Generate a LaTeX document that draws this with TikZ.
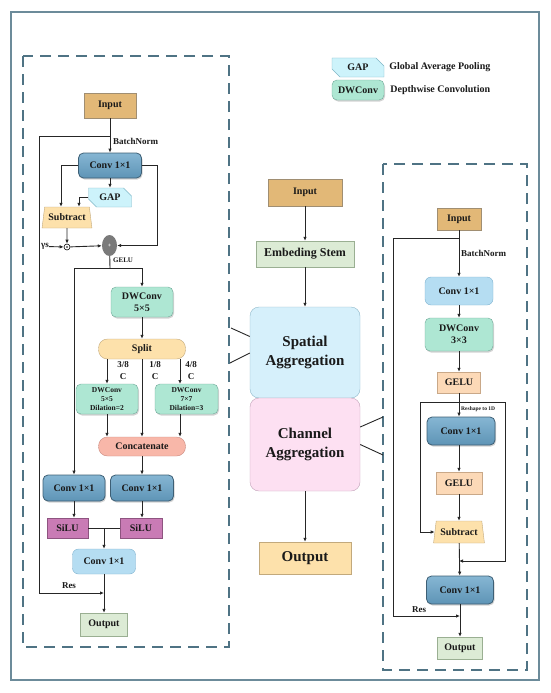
\documentclass[tikz,border=0pt]{standalone}
\usepackage{fontspec}
\setmainfont{Liberation Serif}
\usetikzlibrary{shapes.geometric, shapes.misc, arrows.meta, positioning, calc, shadows}

\definecolor{frameline}{HTML}{6C8B9A}
\definecolor{dashline}{HTML}{4F7384}
\definecolor{inputfill}{HTML}{E2B877}
\definecolor{inputline}{HTML}{A08E72}
\definecolor{outfill}{HTML}{DCEBD5}
\definecolor{outline}{HTML}{9AAF92}
\definecolor{convtop}{HTML}{86B6D3}
\definecolor{convmid}{HTML}{AAD4EB}
\definecolor{convbot}{HTML}{5E94B6}
\definecolor{convline}{HTML}{3D5F75}
\definecolor{convlite}{HTML}{B5DDF2}
\definecolor{convliteline}{HTML}{7FB2CF}
\definecolor{dwfill}{HTML}{AEE7D3}
\definecolor{dwline}{HTML}{6FA898}
\definecolor{gapfill}{HTML}{CDF3FB}
\definecolor{gapline}{HTML}{7FB6C6}
\definecolor{orangefill}{HTML}{FDE1AB}
\definecolor{orangeline}{HTML}{C2A97C}
\definecolor{catfill}{HTML}{F8B7A9}
\definecolor{catline}{HTML}{C98A80}
\definecolor{silufill}{HTML}{C97BB5}
\definecolor{siluline}{HTML}{8E5480}
\definecolor{gelufill}{HTML}{FCD9B7}
\definecolor{geluline}{HTML}{C9A888}
\definecolor{spafill}{HTML}{D6F0FB}
\definecolor{spaline}{HTML}{8FB8C9}
\definecolor{chafill}{HTML}{FDE0F2}
\definecolor{chaline}{HTML}{C2A2B9}

\begin{document}
\begin{tikzpicture}[x=1pt, y=1pt,
    base/.style={draw, align=center, inner sep=1pt, text=black!90, font=\bfseries\fontsize{10}{12}\selectfont},
    inbox/.style={base, fill=inputfill, draw=inputline},
    outbox/.style={base, fill=outfill, draw=outline},
    convdark/.style={base, rounded corners=5pt, draw=convline, line width=0.8pt, top color=convtop, middle color=convmid, bottom color=convbot, drop shadow={shadow xshift=1pt, shadow yshift=-1.5pt, opacity=0.35}},
    convlite/.style={base, rounded corners=6pt, fill=convlite, draw=convliteline},
    dwbox/.style={base, rounded corners=5pt, fill=dwfill, draw=dwline, drop shadow={shadow xshift=1pt, shadow yshift=-1.5pt, opacity=0.35}},
    gapbox/.style={base, chamfered rectangle, chamfered rectangle corners={north east, south west}, chamfered rectangle xsep=4pt, chamfered rectangle ysep=4pt, fill=gapfill, draw=gapline},
    subbox/.style={base, trapezium, trapezium left angle=76, trapezium right angle=76, trapezium stretches=true, minimum width=50pt, minimum height=21pt, fill=orangefill, draw=orangeline},
    pill/.style={base, rounded corners=9pt, fill=orangefill, draw=orangeline, minimum width=87pt, minimum height=20pt},
    catbox/.style={base, rounded corners=9pt, fill=catfill, draw=catline, minimum width=87pt, minimum height=19pt},
    silubox/.style={base, fill=silufill, draw=siluline, minimum height=20pt},
    gelubox/.style={base, fill=gelufill, draw=geluline, minimum height=21pt},
    aggbox/.style={base, rounded corners=9pt, minimum width=110pt, font=\bfseries\fontsize{15}{19}\selectfont},
    plusnode/.style={ellipse, fill=black!52, minimum width=15pt, minimum height=21pt, inner sep=0pt, text=white!75, font=\bfseries\fontsize{6}{6}\selectfont},
    odot/.style={circle, draw, line width=0.6pt, inner sep=0pt, minimum size=6pt, path picture={\fill (path picture bounding box.center) circle (0.9pt);}},
    lbl/.style={inner sep=0pt, align=center, text=black!90, font=\bfseries\fontsize{9}{12}\selectfont},
    keytext/.style={lbl, font=\bfseries\fontsize{10}{12}\selectfont},
    arrow/.style={-{Latex[length=4pt, width=3.5pt]}, line width=0.9pt, draw=black!85},
    wire/.style={line width=0.9pt, draw=black!85},
    fan/.style={line width=0.9pt, draw=black!85},
    dashbox/.style={draw=dashline, line width=1.1pt, dash pattern=on 11pt off 7pt},
    frame/.style={draw=frameline, line width=1.2pt}
]
\useasboundingbox (0,0) rectangle (550,-693);
\draw[frame] (11,-12) rectangle (539,-680);
\draw[dashbox] (23,-56) rectangle (229,-647);
\draw[dashbox] (383,-164) rectangle (527,-670);

% legend
\node[gapbox, minimum width=52pt, minimum height=19pt] (kgap) at (358,-67.5) {GAP};
\node[keytext, right=5pt of kgap] (kgapt) {Global Average Pooling};
\node[dwbox, minimum width=52pt, minimum height=20pt] (kdw) at (358,-90) {DWConv};
\node[keytext, right=6pt of kdw] (kdwt) {Depthwise Convolution};

% left block: spatial aggregation
\node[inbox, minimum width=52pt, minimum height=25pt] (lin) at (110,-105.5) {Input};
\node[convdark, minimum width=63pt, minimum height=25pt] (lc1) at (110,-165.5) {Conv 1×1};
\node[gapbox, minimum width=43pt, minimum height=19pt] (lgap) at (110,-197.5) {GAP};
\node[subbox] (lsub) at (67,-217.5) {Subtract};
\node[odot] (lmul) at (67,-247) {};
\node[lbl] (lgs) at (45,-246.5) {γs};
\node[plusnode] (ladd) at (109.5,-245.5) {+};
\coordinate (lbn) at (110,-136);
\coordinate (lgelu) at (110,-268);
\node[dwbox, minimum width=62pt, minimum height=30pt] (ldw) at (142,-302) {DWConv\\5×5};
\node[pill] (lsplit) at (142,-349) {Split};
\node[dwbox, minimum width=62pt, minimum height=30pt, font=\bfseries\fontsize{7.5}{9}\selectfont] (ldwa) at (107,-399) {DWConv\\5×5\\Dilation=2};
\node[dwbox, minimum width=63pt, minimum height=30pt, font=\bfseries\fontsize{7.5}{9}\selectfont] (ldwb) at (186.5,-399) {DWConv\\7×7\\Dilation=3};
\coordinate (ldwbin) at (180,-384);
\coordinate (ldwbout) at (180,-414);
\node[catbox] (lcat) at (142,-446.5) {Concatenate};
\node[convdark, minimum width=62pt, minimum height=26pt] (lca) at (74,-488) {Conv 1×1};
\node[convdark, minimum width=63pt, minimum height=26pt] (lcb) at (142,-488) {Conv 1×1};
\node[silubox, minimum width=41pt] (lsa) at (67.5,-528) {SiLU};
\node[silubox, minimum width=42pt] (lsb) at (141,-528) {SiLU};
\coordinate (ljoin) at (104,-528);
\node[convlite, minimum width=63pt, minimum height=25pt] (lc3) at (104,-561.5) {Conv 1×1};
\node[outbox, minimum width=47pt, minimum height=23pt] (lout) at (104,-624.5) {Output};
\coordinate (lrc) at (39,-593);
\coordinate (lres) at (104,-593);

\node[lbl, anchor=west] (lbnt) at (113,-141) {BatchNorm};
\node[lbl, anchor=west, font=\bfseries\fontsize{7}{8}\selectfont] (lgelut) at (113,-260) {GELU};
\node[lbl] (lsp1) at (123,-371) {3/8\\C};
\node[lbl] (lsp2) at (155,-371) {1/8\\C};
\node[lbl] (lsp3) at (191,-371) {4/8\\C};
\node[lbl] (lrest) at (69,-586) {Res};

\draw[arrow] (lin) -- (lc1);
\draw[arrow] (lbn) -| (lrc) -- (lres);
\draw[arrow] (lc1) -- (lgap);
\draw[arrow] (lc1.west) -| ([xshift=-6pt]lsub.north);
\draw[arrow] (lgap.west) -| ([xshift=12pt]lsub.north);
\draw[arrow] (lsub.south) -- (lmul);
\draw[arrow] (lgs) -- (lmul);
\draw[arrow] (lmul) -- (ladd);
\draw[arrow] (lc1.east) -- ++(16,0) |- (ladd.east);
\draw[wire] (ladd) -- (lgelu);
\draw[arrow] (lgelu) -| (ldw.north);
\draw[arrow] (lgelu) -| (lca.north);
\draw[arrow] (ldw) -- (lsplit);
\draw[arrow] (ldwa |- lsplit.south) -- (ldwa.north);
\draw[arrow] (lsplit.south) -- (lcat.north);
\draw[arrow] (ldwbin |- lsplit.south) -- (ldwbin);
\draw[arrow] (ldwa.south) -- (ldwa |- lcat.north);
\draw[arrow] (ldwbout) -- (ldwbout |- lcat.north);
\draw[arrow] (lcat) -- (lcb);
\draw[arrow] (lca.south) -- (lca.south |- lsa.north);
\draw[arrow] (lcb.south) -- (lcb.south |- lsb.north);
\draw[wire] (lsa.east) -- (lsb.west);
\draw[arrow] (ljoin) -- (ljoin |- lc3.north);
\draw[arrow] (lc3) -- (lout);

% middle column
\node[inbox, minimum width=74pt, minimum height=27pt] (min) at (305,-192.5) {Input};
\node[outbox, minimum width=98pt, minimum height=26pt, font=\bfseries\fontsize{12}{14}\selectfont] (mstem) at (305,-254) {Embeding Stem};
\node[aggbox, fill=spafill, draw=spaline, minimum height=91pt] (mspa) at (305,-352.5) {Spatial\\Aggregation};
\node[aggbox, fill=chafill, draw=chaline, minimum height=93pt] (mcha) at (305,-444.5) {Channel\\Aggregation};
\node[base, fill=orangefill, draw=orangeline, minimum width=92pt, minimum height=32pt, font=\bfseries\fontsize{15}{18}\selectfont] (mout) at (305,-558) {Output};

\draw[arrow] (min) -- (mstem);
\draw[arrow] (mstem) -- (mspa);
\draw[arrow] (mcha) -- (mout);

% zoom lines to the two blocks
\coordinate (fl1) at (231,-328);
\coordinate (fl2) at (230,-363);
\coordinate (fr1) at (383,-417);
\coordinate (fr2) at (383,-455);
\draw[fan] ($(mspa.west)+(0,16)$) -- (fl1);
\draw[fan] ($(mspa.west)+(0,-0.5)$) -- (fl2);
\draw[fan] ($(mcha.east)+(0,17.5)$) -- (fr1);
\draw[fan] (mcha.east) -- (fr2);

% right block: channel aggregation
\node[inbox, minimum width=44pt, minimum height=22pt] (rin) at (459,-219) {Input};
\coordinate (rbn) at (459,-238);
\node[convlite, minimum width=68pt, minimum height=28pt] (rc1) at (459,-291) {Conv 1×1};
\node[dwbox, minimum width=68pt, minimum height=33pt] (rdw) at (459,-334.5) {DWConv\\3×3};
\node[gelubox, minimum width=43pt] (rgelu) at (459,-382.5) {GELU};
\coordinate (rtl) at (420,-402);
\coordinate (rtr) at (505,-402);
\node[convdark, minimum width=68pt, minimum height=28pt] (rc2) at (461,-431) {Conv 1×1};
\node[gelubox, minimum width=46pt, minimum height=22pt] (rgelu2) at (459,-483) {GELU};
\node[subbox, minimum width=51pt, minimum height=22pt] (rsub) at (459,-532) {Subtract};
\coordinate (rjoin) at (459,-561);
\node[convdark, minimum width=67pt, minimum height=28pt] (rc3) at (460,-590) {Conv 1×1};
\node[outbox, minimum width=45pt, minimum height=22pt] (rout) at (460,-648) {Output};
\coordinate (rrc) at (393,-616);
\coordinate (rres) at (460,-616);

\node[lbl, anchor=west] (rbnt) at (461,-253) {BatchNorm};
\node[lbl, anchor=west, font=\bfseries\fontsize{5.5}{6}\selectfont] (rrst) at (461,-409) {Reshape to 1D};
\node[lbl] (rrest) at (419,-610) {Res};

\draw[arrow] (rin) -- (rc1);
\draw[arrow] (rbn) -| (rrc) -- (rres);
\draw[arrow] (rc1) -- (rdw);
\draw[arrow] (rdw) -- (rgelu);
\draw[arrow] (rgelu) -- (rgelu |- rc2.north);
\draw[wire] (rtl) -- (rtr);
\draw[arrow] (rtl) |- (rsub.west);
\draw[arrow] (rtr) |- (rjoin);
\draw[arrow] (rgelu |- rc2.south) -- (rgelu2);
\draw[arrow] (rgelu2) -- (rsub);
\draw[arrow] (rsub) -- (rc3);
\draw[arrow] (rc3) -- (rout);

\end{tikzpicture}
\end{document}
